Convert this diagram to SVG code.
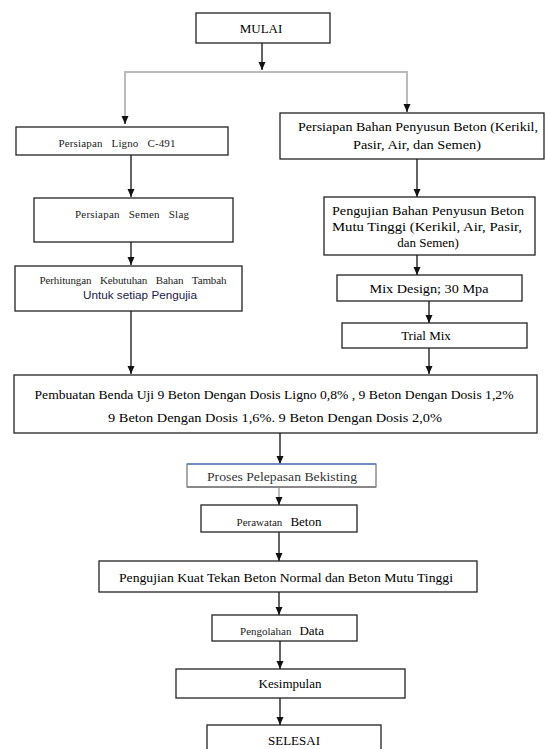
<svg xmlns="http://www.w3.org/2000/svg" width="546" height="749" viewBox="0 0 546 749">
<style>
.box{fill:#fff;stroke:#222;stroke-width:1.3}
.t{font-family:"Liberation Serif","Times New Roman",serif;font-size:13px;fill:#000;text-anchor:middle}
.s{font-family:"Liberation Serif","Times New Roman",serif;font-size:11px;fill:#222;text-anchor:middle}
.c{stroke:#111;stroke-width:1.3;fill:none}
.g{stroke:#bbb;stroke-width:2;fill:none}
</style>
<defs>
<marker id="ah" markerUnits="userSpaceOnUse" markerWidth="8" markerHeight="8" refX="8" refY="4" orient="auto">
<path d="M0,0.5 L8,4 L0,7.5 z" fill="#111"/>
</marker>
</defs>
<rect width="546" height="749" fill="#fff"/>
<g id="connectors">
<path class="c" d="M262,43 V70" marker-end="url(#ah)"/>
<path class="g" d="M262,72 H125 V116"/>
<path class="c" d="M125,116 V124" marker-end="url(#ah)"/>
<path class="g" d="M262,72 H407 V104"/>
<path class="c" d="M407,104 V112" marker-end="url(#ah)"/>
<path class="c" d="M131,155 V197" marker-end="url(#ah)"/>
<path class="c" d="M131,242 V265" marker-end="url(#ah)"/>
<path class="c" d="M131,311 V374" marker-end="url(#ah)"/>
<path class="c" d="M417,159 V197" marker-end="url(#ah)"/>
<path class="c" d="M417,255 V275" marker-end="url(#ah)"/>
<path class="c" d="M429,301 V323" marker-end="url(#ah)"/>
<path class="c" d="M429,348 V374" marker-end="url(#ah)"/>
<path class="c" d="M280,433 V464" marker-end="url(#ah)"/>
<path class="g" d="M279,487 V498" stroke-width="1.3"/>
<path class="c" d="M279,497 V505" marker-end="url(#ah)"/>
<path class="c" d="M279,532 V561" marker-end="url(#ah)"/>
<path class="c" d="M279,592 V615" marker-end="url(#ah)"/>
<path class="c" d="M280,641 V669" marker-end="url(#ah)"/>
<path class="c" d="M280,698 V725" marker-end="url(#ah)"/>
</g>
<g id="mulai">
<rect class="box" x="196" y="13" width="134" height="30"/>
<text class="t" x="261" y="33">MULAI</text>
</g>
<g id="ligno">
<rect class="box" x="16" y="127" width="212" height="28"/>
<text class="s" x="117" y="147" textLength="117" lengthAdjust="spacing" word-spacing="6">Persiapan Ligno C-491</text>
</g>
<g id="semen-slag">
<rect class="box" x="34" y="198" width="199" height="44"/>
<text class="s" x="132" y="218" textLength="114" lengthAdjust="spacing" word-spacing="6">Persiapan Semen Slag</text>
</g>
<g id="perhitungan">
<rect class="box" x="15" y="266" width="227" height="45"/>
<text class="s" x="133" y="284" textLength="187" lengthAdjust="spacing" word-spacing="6">Perhitungan Kebutuhan Bahan Tambah</text>
<text x="140" y="299" font-family="'Liberation Sans',Arial,sans-serif" font-size="11.5" fill="#1a1a4a" text-anchor="middle" textLength="114" lengthAdjust="spacingAndGlyphs">Untuk setiap Pengujia</text>
</g>
<g id="persiapan-bahan">
<rect class="box" x="280" y="113" width="264" height="46"/>
<text class="t" x="418" y="131" textLength="240" lengthAdjust="spacingAndGlyphs">Persiapan  Bahan Penyusun Beton (Kerikil,</text>
<text class="t" x="417" y="149" textLength="128" lengthAdjust="spacingAndGlyphs">Pasir, Air, dan Semen)</text>
</g>
<g id="pengujian-bahan">
<rect class="box" x="324" y="197" width="211" height="58"/>
<text class="t" x="428" y="215" textLength="192" lengthAdjust="spacingAndGlyphs">Pengujian Bahan Penyusun Beton</text>
<text class="t" x="427" y="231" textLength="190" lengthAdjust="spacingAndGlyphs">Mutu Tinggi (Kerikil, Air, Pasir,</text>
<text class="t" x="428" y="247">dan Semen)</text>
</g>
<g id="mix-design">
<rect class="box" x="337" y="275" width="185" height="26"/>
<text class="t" x="429" y="293" textLength="119" lengthAdjust="spacingAndGlyphs">Mix Design; 30 Mpa</text>
</g>
<g id="trial-mix">
<rect class="box" x="342" y="323" width="185" height="25"/>
<text class="t" x="426" y="340">Trial Mix</text>
</g>
<g id="pembuatan">
<rect class="box" x="14" y="375" width="523" height="58"/>
<text class="t" x="274" y="399" textLength="479" lengthAdjust="spacingAndGlyphs">Pembuatan Benda Uji 9 Beton Dengan Dosis Ligno 0,8% , 9 Beton Dengan Dosis 1,2%</text>
<text class="t" x="275" y="422" textLength="334" lengthAdjust="spacingAndGlyphs">9 Beton Dengan Dosis 1,6%. 9 Beton Dengan Dosis 2,0%</text>
</g>
<g id="proses">
<rect x="187" y="464" width="189" height="23" fill="#fff" stroke="#555" stroke-width="1"/>
<line x1="187" y1="464" x2="376" y2="464" stroke="#5b86c8" stroke-width="1.3"/>
<line x1="187" y1="487" x2="376" y2="487" stroke="#888" stroke-width="2"/>
<text class="t" x="282" y="481" textLength="150" lengthAdjust="spacingAndGlyphs" style="fill:#333">Proses Pelepasan Bekisting</text>
</g>
<g id="perawatan">
<rect class="box" x="201" y="505" width="156" height="27"/>
<text x="279" y="526" text-anchor="middle" font-family="'Liberation Serif',serif" fill="#222"><tspan font-size="11">Perawatan</tspan><tspan font-size="13" dx="8" fill="#000">Beton</tspan></text>
</g>
<g id="pengujian-kuat">
<rect class="box" x="99" y="561" width="378" height="31"/>
<text class="t" x="286" y="582" textLength="334" lengthAdjust="spacingAndGlyphs">Pengujian Kuat Tekan Beton Normal dan Beton Mutu Tinggi</text>
</g>
<g id="pengolahan">
<rect class="box" x="212" y="615" width="145" height="26"/>
<text x="282" y="635" text-anchor="middle" font-family="'Liberation Serif',serif" fill="#222"><tspan font-size="11">Pengolahan</tspan><tspan font-size="13" dx="8" fill="#000">Data</tspan></text>
</g>
<g id="kesimpulan">
<rect class="box" x="176" y="669" width="229" height="29"/>
<text class="t" x="290" y="688">Kesimpulan</text>
</g>
<g id="selesai">
<rect class="box" x="207" y="725" width="174" height="40"/>
<text class="t" x="294" y="745">SELESAI</text>
</g>
</svg>
